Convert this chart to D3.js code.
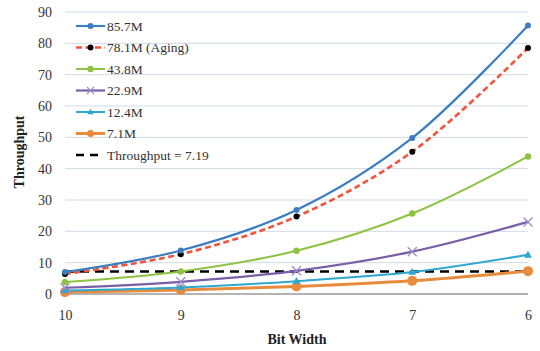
<!DOCTYPE html>
<html><head><meta charset="utf-8">
<script src="https://cdn.jsdelivr.net/npm/d3@7"></script>
<style>body{margin:0;background:#fff}svg{display:block}text{font-family:"Liberation Serif","Times New Roman",serif}</style>
</head><body><svg id="c" width="540" height="351"></svg>
<script>
const categories = ["10","9","8","7","6"];
const yTicks = [0,10,20,30,40,50,60,70,80,90];
const s857 = [7.0, 13.9, 26.8, 49.8, 85.7];
const s781 = [6.4, 12.7, 24.7, 45.4, 78.5];
const s438 = [3.8, 7.2, 13.8, 25.7, 43.9];
const s229 = [2.0, 3.9, 7.4, 13.5, 23.0];
const s124 = [1.1, 2.1, 4.1, 7.0, 12.5];
const s71  = [0.6, 1.3, 2.4, 4.2, 7.3];
const thr = 7.19;
const names = ["85.7M","78.1M (Aging)","43.8M","22.9M","12.4M","7.1M","Throughput = 7.19"];

const series = [
 {name:names[0], v:s857, color:"#3b7dc0", w:2.2, dash:null, marker:"circle", mcolor:"#3b7dc0", r:3},
 {name:names[1], v:s781, color:"#f4533b", w:2.6, dash:"6,3.5", marker:"circle", mcolor:"#000", r:3},
 {name:names[2], v:s438, color:"#8dc342", w:2, dash:null, marker:"circle", mcolor:"#8dc342", r:3.2},
 {name:names[3], v:s229, color:"#7a5ea8", w:2.2, dash:null, marker:"x", mcolor:"#9a8cc8", r:4.5},
 {name:names[4], v:s124, color:"#2ea8cf", w:2, dash:null, marker:"tri", mcolor:"#2ea8cf", r:4},
 {name:names[5], v:s71, color:"#e98b3c", w:3, dash:null, marker:"circle", mcolor:"#e98b3c", r:5},
];

const svg = d3.select("#c");
const x = d3.scalePoint().domain(categories).range([65, 528]);
const y = d3.scaleLinear().domain([0,90]).range([294, 12]);

// gridlines
svg.append("g").selectAll("line").data(yTicks.filter(d=>d>0)).join("line")
 .attr("x1",65).attr("x2",528).attr("y1",d=>y(d)).attr("y2",d=>y(d))
 .attr("stroke","#d0dbe6").attr("stroke-width",1);
svg.append("line").attr("x1",65).attr("x2",528).attr("y1",y(0)).attr("y2",y(0))
 .attr("stroke","#9a9a9a").attr("stroke-width",1.5);

// y axis labels
const ya = svg.append("g").attr("transform","translate(52,0)")
 .call(d3.axisLeft(y).tickValues(yTicks).tickSize(0).tickPadding(0));
ya.select(".domain").remove();
ya.selectAll("text").attr("font-family","Liberation Serif").attr("font-size",14).attr("fill","#333");

const xa = svg.append("g").attr("transform","translate(0,310)")
 .call(d3.axisBottom(x).tickSize(0).tickPadding(0));
xa.select(".domain").remove();
xa.selectAll("text").attr("font-family","Liberation Serif").attr("font-size",14).attr("fill","#333");

svg.append("text").attr("x",297).attr("y",344).attr("text-anchor","middle")
 .attr("font-size",14).attr("font-weight","bold").attr("fill","#222").text("Bit Width");
svg.append("text").attr("transform","translate(24,152) rotate(-90)").attr("text-anchor","middle")
 .attr("font-size",14).attr("font-weight","bold").attr("fill","#222").text("Throughput");

// threshold
svg.append("line").attr("x1",x("10")).attr("x2",x("6")).attr("y1",y(thr)).attr("y2",y(thr))
 .attr("stroke","#000").attr("stroke-width",2.6).attr("stroke-dasharray","9,6");

const line = d3.line().x((d,i)=>x(categories[i])).y(d=>y(d)).curve(d3.curveCatmullRom.alpha(0.5));

function marker(g, type, cx, cy, s){
  if(type==="circle"){
    g.append("circle").attr("cx",cx).attr("cy",cy).attr("r",s.r).attr("fill",s.mcolor);
  } else if(type==="x"){
    const r=s.r;
    g.append("path").attr("d",`M${cx-r},${cy-r}L${cx+r},${cy+r}M${cx-r},${cy+r}L${cx+r},${cy-r}`)
     .attr("stroke",s.mcolor).attr("stroke-width",1.3);
  } else if(type==="tri"){
    const r=s.r;
    g.append("path").attr("d",`M${cx},${cy-r}L${cx+r},${cy+r*0.7}L${cx-r},${cy+r*0.7}Z`).attr("fill",s.mcolor);
  }
}

const order = [5,4,3,2,1,0];
order.forEach(k=>{
  const s = series[k];
  const g = svg.append("g");
  g.append("path").datum(s.v).attr("d",line).attr("fill","none")
   .attr("stroke",s.color).attr("stroke-width",s.w).attr("stroke-dasharray",s.dash);
  s.v.forEach((v,i)=>marker(g, s.marker, x(categories[i]), y(v), s));
});

// legend
const lg = svg.append("g");
const ly0 = 26, ldy = 21.5;
series.forEach((s,i)=>{
  const yy = ly0 + i*ldy;
  lg.append("line").attr("x1",76).attr("x2",105).attr("y1",yy).attr("y2",yy)
   .attr("stroke",s.color).attr("stroke-width",s.w).attr("stroke-dasharray",s.dash);
  marker(lg, s.marker, 90.5, yy, Object.assign({}, s, {r: s.marker==="circle"? Math.min(s.r,3.5): s.r*0.8}));
  lg.append("text").attr("x",107).attr("y",yy+4.5).attr("font-size",13.5).attr("fill","#333").text(s.name);
});
const ty = ly0 + 6*ldy;
lg.append("line").attr("x1",76).attr("x2",102).attr("y1",ty).attr("y2",ty)
 .attr("stroke","#000").attr("stroke-width",2.6).attr("stroke-dasharray","8,6");
lg.append("text").attr("x",107).attr("y",ty+4.5).attr("font-size",13.5).attr("fill","#333").text(names[6]);
</script></body></html>
